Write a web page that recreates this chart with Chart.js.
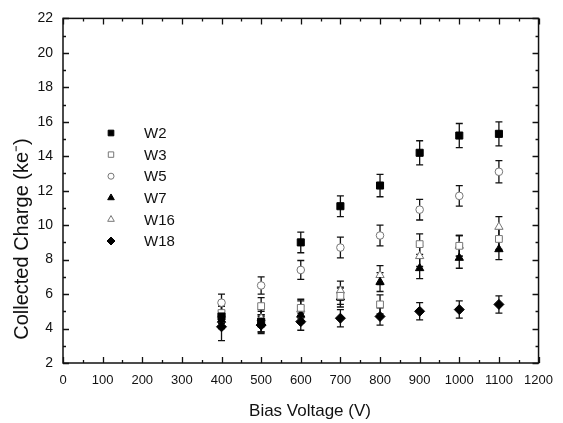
<!DOCTYPE html>
<html><head><meta charset="utf-8">
<script src="https://cdn.jsdelivr.net/npm/chart.js@4/dist/chart.umd.min.js"></script>
<style>html,body{margin:0;padding:0;background:#fff}#wrap{width:563px;height:423px}</style>
</head><body><div id="wrap"><canvas id="c" width="563" height="423"></canvas></div>
<script>
// ---- data ----
const voltages = [400, 500, 600, 700, 800, 900, 1000, 1100];
const seriesNames = ['W2', 'W3', 'W5', 'W7', 'W16', 'W18'];
const W2  = [4.7, 4.4, 9.0, 11.1, 12.3, 14.2, 15.2, 15.3];
const W3  = [4.9, 5.3, 5.2, 5.9, 5.4, 8.9, 8.8, 9.2];
const W5  = [5.5, 6.5, 7.4, 8.7, 9.4, 10.9, 11.7, 13.1];
const W7  = [4.5, 4.3, 4.8, 5.8, 6.7, 7.5, 8.1, 8.6];
const W16 = [4.8, 4.6, 5.1, 6.2, 7.1, 8.2, 8.8, 9.9];
const W18 = [4.1, 4.2, 4.4, 4.6, 4.7, 5.0, 5.1, 5.4];
const W2err  = [0.6, 0.6, 0.6, 0.6, 0.65, 0.7, 0.7, 0.7];
const W3err  = [0.5, 0.5, 0.5, 0.5, 0.55, 0.6, 0.6, 0.6];
const W5err  = [0.5, 0.5, 0.55, 0.6, 0.6, 0.6, 0.6, 0.65];
const W7err  = [0.5, 0.5, 0.5, 0.55, 0.55, 0.6, 0.6, 0.6];
const W16err = [0.5, 0.5, 0.5, 0.55, 0.55, 0.6, 0.6, 0.6];
const W18err = [0.8, 0.5, 0.5, 0.5, 0.5, 0.5, 0.5, 0.5];
const xTickRange = [0, 1200, 100];
const yTickRange = [2, 22, 2];
const xTitle = 'Bias Voltage (V)';
const yTitle = 'Collected Charge (ke\u207B)';

const seriesValues = [W2, W3, W5, W7, W16, W18];
const seriesErrors = [W2err, W3err, W5err, W7err, W16err, W18err];
const styles = [
  {pointStyle:'rect', radius:5, bg:'#000', bc:'#000'},
  {pointStyle:'rect', radius:4.8, bg:'#fff', bc:'#777'},
  {pointStyle:'circle', radius:3.8, bg:'#fff', bc:'#777'},
  {pointStyle:'triangle', radius:4.8, bg:'#000', bc:'#000'},
  {pointStyle:'triangle', radius:4.8, bg:'#fff', bc:'#777'},
  {pointStyle:'rectRot', radius:5, bg:'#000', bc:'#000'}
];

const datasets = seriesNames.map((n, i) => ({
  label: n,
  data: voltages.map((v, j) => ({x: v, y: seriesValues[i][j]})),
  errors: seriesErrors[i],
  showLine: false,
  pointStyle: styles[i].pointStyle,
  pointRadius: styles[i].radius,
  pointHoverRadius: styles[i].radius,
  backgroundColor: styles[i].bg,
  borderColor: styles[i].bc,
  borderWidth: 1
}));

const FONT = "'Liberation Sans', Arial, sans-serif";

const errorBars = {
  id: 'errorBars',
  beforeDatasetsDraw(chart) {
    const ctx = chart.ctx, xs = chart.scales.x, ys = chart.scales.y;
    ctx.save();
    ctx.strokeStyle = '#111';
    ctx.lineWidth = 1.3;
    chart.data.datasets.forEach(ds => {
      ds.data.forEach((p, j) => {
        const e = ds.errors[j];
        const px = xs.getPixelForValue(p.x);
        const yt = ys.getPixelForValue(p.y + e);
        const yb = ys.getPixelForValue(p.y - e);
        ctx.beginPath();
        ctx.moveTo(px, yt); ctx.lineTo(px, yb);
        ctx.moveTo(px - 3.5, yt); ctx.lineTo(px + 3.5, yt);
        ctx.moveTo(px - 3.5, yb); ctx.lineTo(px + 3.5, yb);
        ctx.stroke();
      });
    });
    ctx.restore();
  }
};

const frameTicks = {
  id: 'frameTicks',
  afterDraw(chart) {
    const ctx = chart.ctx, xs = chart.scales.x, ys = chart.scales.y;
    const {left, right, top, bottom} = chart.chartArea;
    ctx.save();
    ctx.strokeStyle = '#111';
    ctx.lineWidth = 1.5;
    ctx.strokeRect(left, top, right - left, bottom - top);
    ctx.lineWidth = 1.3;
    ctx.beginPath();
    for (let v = xTickRange[0]; v <= xTickRange[1]; v += xTickRange[2] / 2) {
      const px = Math.round(xs.getPixelForValue(v)) + 0.5;
      const len = (v % xTickRange[2] === 0) ? 6 : 3;
      ctx.moveTo(px, bottom); ctx.lineTo(px, bottom - len);
      ctx.moveTo(px, top); ctx.lineTo(px, top + len);
    }
    for (let v = yTickRange[0]; v <= yTickRange[1]; v += yTickRange[2] / 2) {
      const py = Math.round(ys.getPixelForValue(v)) + 0.5;
      const len = ((v - yTickRange[0]) % yTickRange[2] === 0) ? 6 : 3;
      ctx.moveTo(left, py); ctx.lineTo(left + len, py);
      ctx.moveTo(right, py); ctx.lineTo(right - len, py);
    }
    ctx.stroke();

    // axis titles
    ctx.fillStyle = '#111';
    ctx.textAlign = 'center';
    ctx.textBaseline = 'middle';
    ctx.font = '17px ' + FONT;
    ctx.fillText(xTitle, 310, 411);
    ctx.save();
    ctx.translate(22, 239);
    ctx.rotate(-Math.PI / 2);
    ctx.font = '20px ' + FONT;
    ctx.fillText(yTitle, 0, 0);
    ctx.restore();

    // legend inside the plot
    const lx = 111, ly0 = 133, dy = 21.6;
    ctx.font = '15px ' + FONT;
    ctx.textBaseline = 'middle';
    ctx.textAlign = 'left';
    chart.data.datasets.forEach((ds, i) => {
      const y = ly0 + i * dy;
      ctx.fillStyle = ds.backgroundColor;
      ctx.strokeStyle = ds.borderColor;
      ctx.lineWidth = 1;
      Chart.helpers.drawPoint(ctx, {pointStyle: ds.pointStyle, radius: ds.pointRadius * 0.8, rotation: 0, borderWidth: 1}, lx, y);
      ctx.fillStyle = '#111';
      ctx.fillText(ds.label, 144, y + 1);
    });
    ctx.restore();
  }
};

new Chart(document.getElementById('c'), {
  type: 'scatter',
  data: { datasets },
  options: {
    responsive: false,
    animation: false,
    devicePixelRatio: 1,
    layout: { padding: { left: 0, right: 21, top: 17, bottom: 0 } },
    plugins: { legend: { display: false }, tooltip: { enabled: false } },
    scales: {
      x: {
        type: 'linear',
        min: xTickRange[0], max: xTickRange[1],
        afterFit(s) { s.height = 60; },
        grid: { display: false, drawTicks: false },
        border: { display: false },
        ticks: { stepSize: xTickRange[2], padding: 10, maxRotation: 0, autoSkip: false,
                 callback: v => String(v),
                 color: '#111', font: { family: FONT, size: 13 } },
        title: { display: false }
      },
      y: {
        type: 'linear',
        min: yTickRange[0], max: yTickRange[1],
        afterFit(s) { s.width = 63; },
        grid: { display: false, drawTicks: false },
        border: { display: false },
        ticks: { stepSize: yTickRange[2], padding: 10, callback: v => String(v),
                 color: '#111', font: { family: FONT, size: 14 } },
        title: { display: false }
      }
    }
  },
  plugins: [errorBars, frameTicks]
});
</script></body></html>
